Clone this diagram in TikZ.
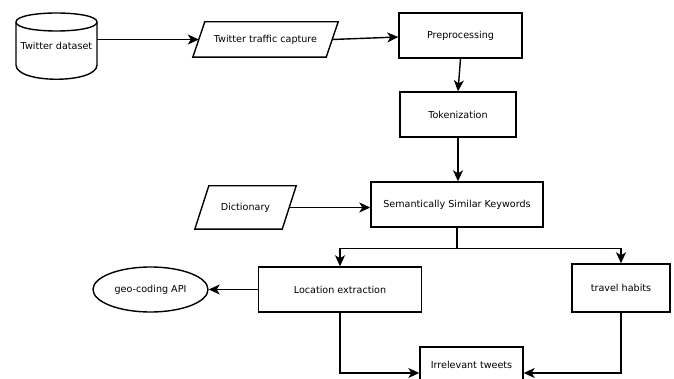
\documentclass[tikz,border=0pt]{standalone}
\usepackage{fontspec}
\setmainfont{DejaVu Sans}
\usetikzlibrary{arrows.meta, shapes.geometric}

\begin{document}
\begin{tikzpicture}[x=1pt, y=-1pt, >={Stealth[length=11pt, width=10pt, inset=3pt]},
  font=\fontsize{9.6}{11}\selectfont,
  box/.style={draw, line width=1.4pt, rectangle, inner sep=0pt},
  slanted/.style={rectangle, inner sep=0pt},
  oval/.style={draw, line width=1.4pt, ellipse, inner sep=0pt},
  outline/.style={line width=1.4pt, line join=miter},
  flow/.style={->, line width=1.4pt}]
\useasboundingbox (0,0) rectangle (674,379);
\clip (0,0) rectangle (674,379);
% data source drum
\draw[outline] (16,22) .. controls (16,10) and (97,10) .. (97,22) -- (97,65)
  .. controls (97,84) and (16,84) .. (16,65) -- cycle;
\draw[outline] (16,22) .. controls (16,34) and (97,34) .. (97,22);
\node[minimum width=81pt, minimum height=40pt, inner sep=0pt] (dataset) at (56.5,46) {Twitter dataset};
% steps
\node[slanted, minimum width=133pt, minimum height=35pt] (capture) at (265.5,39.5) {Twitter traffic capture};
\draw[outline] ([xshift=6pt]capture.north west) -- ([xshift=6pt]capture.north east)
  -- ([xshift=-6pt]capture.south east) -- ([xshift=-6pt]capture.south west) -- cycle;
\node[box, minimum width=123pt, minimum height=45pt] (prep) at (460.5,35.5) {Preprocessing};
\node[box, minimum width=116pt, minimum height=45pt] (token) at (458,114.5) {Tokenization};
\node[box, minimum width=172pt, minimum height=45pt] (keywords) at (457,204.5) {Semantically Similar Keywords};
\node[slanted, minimum width=87pt, minimum height=43pt] (dictionary) at (245.5,207.5) {Dictionary};
\draw[outline] ([xshift=7pt]dictionary.north west) -- ([xshift=7pt]dictionary.north east)
  -- ([xshift=-7pt]dictionary.south east) -- ([xshift=-7pt]dictionary.south west) -- cycle;
\node[box, minimum width=163pt, minimum height=45pt] (location) at (340,289.5) {Location extraction};
\node[oval, minimum width=115pt, minimum height=45pt] (geo) at (150.5,289.5) {geo-coding API};
\node[box, minimum width=98pt, minimum height=48pt] (habits) at (621,288) {travel habits};
\node[box, minimum width=103pt, minimum height=36pt] (irrelevant) at (471.5,365) {Irrelevant tweets};
% connectors
\draw[flow] (dataset.east |- capture.west) -- (capture.west);
\draw[flow] (capture.east) -- ([yshift=-1.5pt]prep.west);
\draw[flow] (prep.south) -- (token.north);
\draw[flow] (token.south) -- (token.south |- keywords.north);
\draw[flow] (dictionary.east) -- (keywords.west |- dictionary.east);
\draw[flow] (keywords.south) -- ++(0,21) -| (location.north);
\draw[flow] (keywords.south) -- ++(0,21) -| (habits.north);
\draw[flow] (location.west) -- (geo.east);
\draw[flow] (location.south) |- ([yshift=-8pt]irrelevant.west);
\draw[flow] (habits.south) |- ([yshift=-8pt]irrelevant.east);
\end{tikzpicture}
\end{document}
